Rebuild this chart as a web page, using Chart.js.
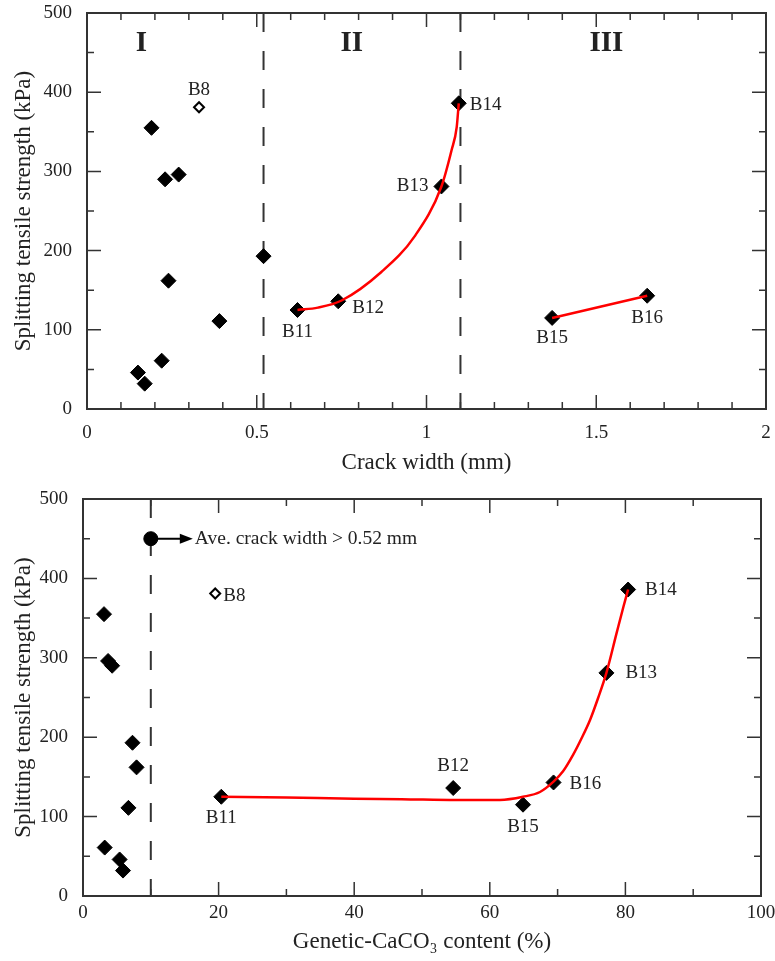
<!DOCTYPE html>
<html>
<head>
<meta charset="utf-8">
<script src="https://cdn.jsdelivr.net/npm/chart.js@4.4.1/dist/chart.umd.min.js"></script>
<style>
  html, body { margin: 0; padding: 0; background: #fff; }
  #wrap { position: relative; width: 775px; height: 961px; }
  canvas { position: absolute; left: 0; }
</style>
</head>
<body>
<div id="wrap">
  <canvas id="crackChart" width="775" height="480" style="top:0"></canvas>
  <canvas id="caco3Chart" width="775" height="481" style="top:480px"></canvas>
</div>
<script>
// unlabelled samples (region I), same order in every array
const strengthI = [355, 296, 290, 193, 162, 111, 61, 46, 32];
const crackWidthI = [0.19, 0.27, 0.23, 0.52, 0.24, 0.39, 0.22, 0.15, 0.17];
const caco3I = [3.1, 3.7, 4.3, 7.3, 7.9, 6.7, 3.2, 5.4, 5.9];

// B8 (open marker)
const b8Strength = [381];
const b8Crack = [0.33];
const b8Caco3 = [19.5];

// labelled samples
const sampleNames = ['B11', 'B12', 'B13', 'B14', 'B15', 'B16'];
const sampleStrength = [125, 136, 281, 386, 115, 143];
const sampleCrack = [0.62, 0.74, 1.044, 1.095, 1.37, 1.65];
const sampleCaco3 = [20.4, 54.6, 77.2, 80.4, 64.9, 69.4];

// red trend lines
const fitIICrack = [0.62, 0.68, 0.75, 0.867, 0.965, 1.044, 1.074, 1.089, 1.095];
const fitIIStrength = [125, 128, 137, 173, 218, 281, 327, 356, 386];
const fitIIICrack = [1.37, 1.65];
const fitIIIStrength = [115, 143];
const fitCaco3 = [20.4, 30, 40, 47, 55, 61.5, 64.9, 67.4, 69.4, 70.8, 72.3, 73.5, 74.8, 76, 77.2, 78.7, 79.7, 80.4];
const fitCaco3Strength = [125, 124, 122.5, 122, 121, 121, 125, 131, 144, 157, 178, 198, 222, 250, 281, 331, 364, 386];

// region borders and the crack-width marker
const crackBounds = [0.52, 1.1];
const caco3Bound = [10];
const regionNames = ['I', 'II', 'III'];
const regionCrack = [0.16, 0.78, 1.53];
const regionStrength = [462, 462, 461];
const aveMarker = { x: 10, y: 450, arrowTo: 16.2, text: 'Ave. crack width > 0.52 mm' };

const serif = "'Liberation Serif', 'Times New Roman', serif";
const ink = '#222';

const pts = (xs, ys) => xs.map((x, i) => ({ x: x, y: ys[i] }));

function curve(xs, ys) {
    return {
        data: pts(xs, ys), showLine: true, borderColor: '#ff0000', borderWidth: 2.5,
        pointRadius: 0, cubicInterpolationMode: 'monotone'
    };
}
function diamonds(xs, ys) {
    return {
        data: pts(xs, ys), pointStyle: 'rectRot', pointRadius: 7.5,
        backgroundColor: '#000', borderColor: '#000', borderWidth: 1
    };
}
function openDiamond(xs, ys) {
    return {
        data: pts(xs, ys), pointStyle: 'rectRot', pointRadius: 5,
        backgroundColor: '#fff', borderColor: '#000', borderWidth: 2
    };
}
function divider(x) {
    return {
        data: [{ x: x, y: 500 }, { x: x, y: 0 }], showLine: true, borderColor: '#333',
        borderWidth: 2, borderDash: [19, 19], pointRadius: 0
    };
}

function labelsFor(names, xs, ys, offsets) {
    return names.map((n, i) => {
        let o = offsets[n];
        return { text: n, x: xs[i], y: ys[i], dx: o[0], dy: o[1], align: o[2] };
    });
}

// frame, inward ticks on four sides, text notes
const figureDecor = {
    id: 'figureDecor',
    afterDatasetsDraw(chart, args, opts) {
        const ctx = chart.ctx;
        const a = chart.chartArea;
        const xs = chart.scales.x, ys = chart.scales.y;
        ctx.save();

        ctx.strokeStyle = '#333';
        ctx.lineWidth = 1.5;
        function marks(scale, minor, major, horizontal) {
            let n = Math.round((scale.max - scale.min) / minor);
            for (let i = 1; i < n; i++) {
                let v = scale.min + i * minor;
                let r = v / major;
                let len = Math.abs(r - Math.round(r)) < 1e-6 ? 14 : 7;
                let p = scale.getPixelForValue(v);
                ctx.beginPath();
                if (horizontal) {
                    ctx.moveTo(p, a.bottom); ctx.lineTo(p, a.bottom - len);
                    ctx.moveTo(p, a.top); ctx.lineTo(p, a.top + len);
                } else {
                    ctx.moveTo(a.left, p); ctx.lineTo(a.left + len, p);
                    ctx.moveTo(a.right, p); ctx.lineTo(a.right - len, p);
                }
                ctx.stroke();
            }
        }
        marks(xs, opts.xMinor, opts.xMajor, true);
        marks(ys, 50, 100, false);

        ctx.lineWidth = 2;
        ctx.strokeRect(a.left, a.top, a.right - a.left, a.bottom - a.top);

        ctx.fillStyle = ink;
        ctx.textBaseline = 'middle';
        ctx.font = '19px ' + serif;
        opts.labels.forEach(l => {
            ctx.textAlign = l.align;
            ctx.fillText(l.text, xs.getPixelForValue(l.x) + l.dx, ys.getPixelForValue(l.y) + l.dy);
        });

        (opts.notes || []).forEach(t => {
            ctx.font = t.font;
            ctx.textAlign = t.align;
            ctx.fillText(t.text, xs.getPixelForValue(t.x), ys.getPixelForValue(t.y));
        });

        if (opts.arrow) {
            let m = opts.arrow;
            let x0 = xs.getPixelForValue(m.x), x1 = xs.getPixelForValue(m.arrowTo);
            let y0 = ys.getPixelForValue(m.y);
            ctx.strokeStyle = '#000';
            ctx.fillStyle = '#000';
            ctx.lineWidth = 2;
            ctx.beginPath();
            ctx.moveTo(x0, y0); ctx.lineTo(x1 - 10, y0);
            ctx.stroke();
            ctx.beginPath();
            ctx.moveTo(x1, y0); ctx.lineTo(x1 - 13, y0 - 5); ctx.lineTo(x1 - 13, y0 + 5);
            ctx.closePath();
            ctx.fill();
            ctx.fillStyle = ink;
            ctx.font = '19.5px ' + serif;
            ctx.textAlign = 'left';
            ctx.fillText(m.text, x1 + 2, y0);
        }
        ctx.restore();
    }
};

// scale boxes get fixed sizes and no extra label padding, so the plot area lands where the figure has it
function noPadding(s) {
    s.paddingTop = 0; s.paddingBottom = 0; s.paddingLeft = 0; s.paddingRight = 0;
}

function scalesFor(xMax, xStep, xTitle, yWidth, xHeight, tickPad, titlePad) {
    const tickFont = { family: serif, size: 19 };
    const titleFont = { family: serif, size: 23 };
    return {
        x: {
            type: 'linear', min: 0, max: xMax,
            ticks: { stepSize: xStep, color: ink, font: tickFont, padding: tickPad, maxRotation: 0,
                     autoSkip: false, callback: v => String(v) },
            grid: { display: false, drawTicks: false },
            border: { display: false },
            title: { display: true, text: xTitle, color: ink, font: titleFont, padding: { top: 0, bottom: titlePad } },
            afterFit(s) { s.height = xHeight; noPadding(s); }
        },
        y: {
            type: 'linear', min: 0, max: 500,
            ticks: { stepSize: 100, color: ink, font: tickFont, padding: 15 },
            grid: { display: false, drawTicks: false },
            border: { display: false },
            title: { display: true, text: 'Splitting tensile strength (kPa)', color: ink, font: titleFont,
                     padding: { top: 10, bottom: 0 } },
            afterFit(s) { s.width = yWidth; noPadding(s); }
        }
    };
}

const commonPlugins = { legend: { display: false }, tooltip: { enabled: false } };

new Chart(document.getElementById('crackChart'), {
    type: 'scatter',
    data: {
        datasets: [
            curve(fitIICrack, fitIIStrength),
            curve(fitIIICrack, fitIIIStrength),
            diamonds(crackWidthI.concat(sampleCrack), strengthI.concat(sampleStrength)),
            openDiamond(b8Crack, b8Strength),
            divider(crackBounds[0]),
            divider(crackBounds[1])
        ]
    },
    options: {
        responsive: false, animation: false, devicePixelRatio: 1,
        layout: { padding: { top: 13, right: 9, left: 0, bottom: 0 } },
        scales: scalesFor(2, 0.5, 'Crack width (mm)', 87, 71, 13, 3),
        plugins: Object.assign({}, commonPlugins, {
            figureDecor: {
                xMinor: 0.1, xMajor: 0.5,
                labels: labelsFor(['B8'], b8Crack, b8Strength, { B8: [0, -17, 'center'] }).concat(
                    labelsFor(sampleNames, sampleCrack, sampleStrength, {
                        B11: [0, 22, 'center'], B12: [14, 7, 'left'], B13: [-13, 0, 'right'],
                        B14: [11, 2, 'left'], B15: [0, 20, 'center'], B16: [0, 22, 'center']
                    })),
                notes: regionNames.map((r, i) => ({
                    text: r, x: regionCrack[i], y: regionStrength[i], align: 'center', font: 'bold 29px ' + serif
                }))
            }
        })
    },
    plugins: [figureDecor]
});

new Chart(document.getElementById('caco3Chart'), {
    type: 'scatter',
    data: {
        datasets: [
            curve(fitCaco3, fitCaco3Strength),
            diamonds(caco3I.concat(sampleCaco3), strengthI.concat(sampleStrength)),
            openDiamond(b8Caco3, b8Strength),
            {
                data: [{ x: aveMarker.x, y: aveMarker.y }], pointStyle: 'circle', pointRadius: 7,
                backgroundColor: '#000', borderColor: '#000'
            },
            divider(caco3Bound[0])
        ]
    },
    options: {
        responsive: false, animation: false, devicePixelRatio: 1,
        layout: { padding: { top: 19, right: 14, left: 0, bottom: 0 } },
        scales: scalesFor(100, 20, 'Genetic-CaCO\u2083 content (%)', 83, 65, 6, 5),
        plugins: Object.assign({}, commonPlugins, {
            figureDecor: {
                xMinor: 10, xMajor: 20,
                labels: labelsFor(['B8'], b8Caco3, b8Strength, { B8: [8, 3, 'left'] }).concat(
                    labelsFor(sampleNames, sampleCaco3, sampleStrength, {
                        B11: [0, 21, 'center'], B12: [0, -22, 'center'], B13: [19, 0, 'left'],
                        B14: [17, 0, 'left'], B15: [0, 22, 'center'], B16: [16, 2, 'left']
                    })),
                arrow: aveMarker
            }
        })
    },
    plugins: [figureDecor]
});
</script>
</body>
</html>
